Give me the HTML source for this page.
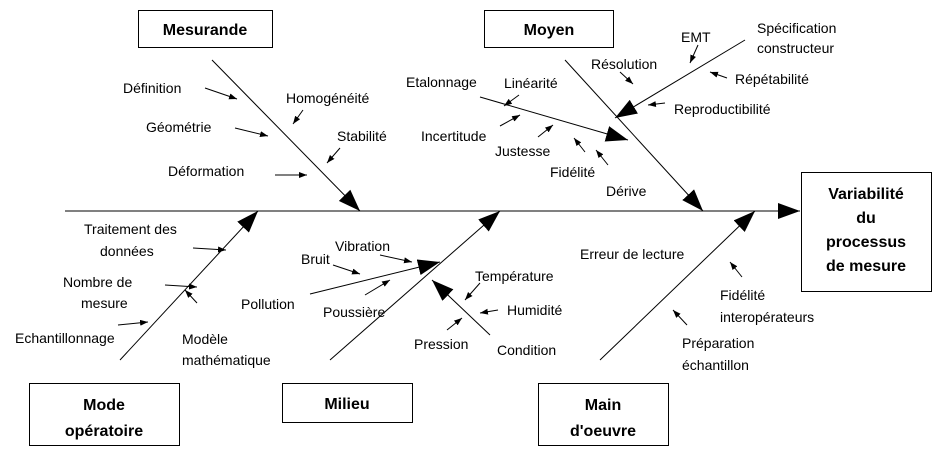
<!DOCTYPE html>
<html><head><meta charset="utf-8"><style>
html,body{margin:0;padding:0;background:#fff;}
svg{display:block;font-family:"Liberation Sans",sans-serif;font-size:14px;}
</style></head><body>
<svg width="943" height="452" viewBox="0 0 943 452" xmlns="http://www.w3.org/2000/svg">
<defs>
<marker id="a" markerWidth="8" markerHeight="6" refX="8" refY="3" orient="auto" markerUnits="userSpaceOnUse"><path d="M0,0 L8,3 L0,6 z" fill="#000"/></marker>
<marker id="b" markerWidth="22" markerHeight="16" refX="22" refY="8" orient="auto" markerUnits="userSpaceOnUse"><path d="M0,0 L22,8 L0,16 z" fill="#000"/></marker>
</defs>
<g stroke="#000" stroke-width="1" fill="none">
<line x1="65" y1="211" x2="800" y2="211" marker-end="url(#b)"/>
<line x1="212" y1="60" x2="360" y2="211" marker-end="url(#b)"/>
<line x1="565" y1="60" x2="703" y2="211" marker-end="url(#b)"/>
<line x1="120" y1="360" x2="258" y2="211" marker-end="url(#b)"/>
<line x1="330" y1="360" x2="500" y2="211" marker-end="url(#b)"/>
<line x1="600" y1="360" x2="755" y2="211" marker-end="url(#b)"/>
<line x1="480" y1="97" x2="628" y2="140" marker-end="url(#b)"/>
<line x1="745" y1="40" x2="615" y2="118" marker-end="url(#b)"/>
<line x1="310" y1="294" x2="440" y2="262" marker-end="url(#b)"/>
<line x1="490" y1="335" x2="432" y2="280" marker-end="url(#b)"/>
<g marker-end="url(#a)">
<line x1="205" y1="88" x2="237" y2="99"/>
<line x1="235" y1="128" x2="268" y2="136"/>
<line x1="275" y1="175" x2="307" y2="175"/>
<line x1="303" y1="110" x2="293" y2="124"/>
<line x1="340" y1="148" x2="327" y2="163"/>
<line x1="519" y1="95" x2="504" y2="106"/>
<line x1="500" y1="126" x2="520" y2="115"/>
<line x1="538" y1="137" x2="553" y2="125"/>
<line x1="585" y1="152" x2="574" y2="138"/>
<line x1="608" y1="165" x2="596" y2="150"/>
<line x1="620" y1="72" x2="633" y2="84"/>
<line x1="698" y1="45" x2="690" y2="63"/>
<line x1="727" y1="78" x2="710" y2="72"/>
<line x1="665" y1="103" x2="648" y2="105"/>
<line x1="193" y1="248" x2="226" y2="250"/>
<line x1="165" y1="285" x2="197" y2="287"/>
<line x1="118" y1="325" x2="148" y2="322"/>
<line x1="197" y1="303" x2="185" y2="290"/>
<line x1="333" y1="265" x2="360" y2="274"/>
<line x1="380" y1="255" x2="412" y2="262"/>
<line x1="365" y1="295" x2="390" y2="280"/>
<line x1="480" y1="283" x2="465" y2="300"/>
<line x1="498" y1="310" x2="480" y2="313"/>
<line x1="447" y1="330" x2="462" y2="318"/>
<line x1="742" y1="277" x2="730" y2="262"/>
<line x1="687" y1="325" x2="673" y2="310"/>
</g>
<rect x="138.5" y="10.5" width="134" height="37"/>
<rect x="484.5" y="10.5" width="129" height="37"/>
<rect x="29.5" y="383.5" width="150" height="62"/>
<rect x="282.5" y="383.5" width="130" height="39"/>
<rect x="538.5" y="383.5" width="130" height="62"/>
<rect x="801.5" y="172.5" width="130" height="119"/>
</g>
<g font-size="16" font-weight="bold" text-anchor="middle">
<text x="205" y="35">Mesurande</text>
<text x="549" y="35">Moyen</text>
<text x="104" y="410">Mode</text><text x="104" y="436">opératoire</text>
<text x="347" y="409">Milieu</text>
<text x="603" y="410">Main</text><text x="603" y="436">d'oeuvre</text>
<text x="866" y="199">Variabilité</text><text x="866" y="223">du</text><text x="866" y="247">processus</text><text x="866" y="271">de mesure</text>
</g>
<g>
<text x="123" y="93">Définition</text>
<text x="146" y="132">Géométrie</text>
<text x="168" y="176">Déformation</text>
<text x="286" y="103">Homogénéité</text>
<text x="337" y="141">Stabilité</text>
<text x="406" y="87">Etalonnage</text>
<text x="504" y="88">Linéarité</text>
<text x="421" y="141">Incertitude</text>
<text x="495" y="156">Justesse</text>
<text x="550" y="177">Fidélité</text>
<text x="606" y="196">Dérive</text>
<text x="591" y="69">Résolution</text>
<text x="681" y="42">EMT</text>
<text x="757" y="33">Spécification</text>
<text x="757" y="53">constructeur</text>
<text x="735" y="84">Répétabilité</text>
<text x="674" y="114">Reproductibilité</text>
<text x="84" y="234">Traitement des</text>
<text x="100" y="256">données</text>
<text x="63" y="287">Nombre de</text>
<text x="81" y="308">mesure</text>
<text x="15" y="343">Echantillonnage</text>
<text x="182" y="344">Modèle</text>
<text x="182" y="365">mathématique</text>
<text x="301" y="264">Bruit</text>
<text x="335" y="251">Vibration</text>
<text x="241" y="309">Pollution</text>
<text x="323" y="317">Poussière</text>
<text x="475" y="281">Température</text>
<text x="507" y="315">Humidité</text>
<text x="414" y="349">Pression</text>
<text x="497" y="355">Condition</text>
<text x="580" y="259">Erreur de lecture</text>
<text x="720" y="300">Fidélité</text>
<text x="720" y="322">interopérateurs</text>
<text x="682" y="348">Préparation</text>
<text x="682" y="370">échantillon</text>
</g>
</svg>
</body></html>
